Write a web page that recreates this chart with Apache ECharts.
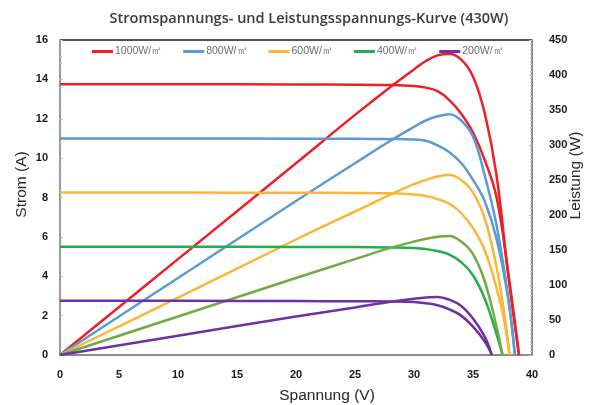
<!DOCTYPE html>
<html>
<head>
<meta charset="utf-8">
<script src="https://cdn.jsdelivr.net/npm/echarts@6/dist/echarts.min.js"></script>
<style>
  html, body { margin: 0; padding: 0; background: #fff; }
  #chart { width: 600px; height: 405px; }
</style>
</head>
<body>
<div id="chart"></div>
<script>
// legend names (irradiance)
const names = ['1000W/㎡', '800W/㎡', '600W/㎡', '400W/㎡', '200W/㎡'];

// 1000 W/m2
const v1000 = [0, 10, 20, 25, 28, 30, 31, 32, 33, 34, 35, 36, 37, 38, 38.9];
const i1000 = [13.75, 13.75, 13.74, 13.73, 13.71, 13.66, 13.58, 13.40, 12.95, 12.25, 11.30, 9.90, 8.00, 4.10, 0];
const p1000 = [0, 137, 274, 343, 383, 408, 420, 428, 430, 422, 398, 345, 256, 112, 0];

// 800 W/m2
const v800 = [0, 10, 20, 25, 28, 30, 31, 32, 33, 34, 35, 36, 37, 38, 38.55];
const i800 = [11.0, 11.0, 10.99, 10.98, 10.97, 10.95, 10.88, 10.65, 10.30, 9.75, 8.90, 7.80, 5.90, 2.80, 0];
const p800 = [0, 110, 220, 274, 306, 326, 335, 341, 344, 335, 312, 256, 185, 80, 0];

// 600 W/m2
const v600 = [0, 10, 20, 25, 28, 30, 31, 32, 33, 34, 35, 36, 37, 37.6, 38.1];
const i600 = [8.25, 8.25, 8.24, 8.23, 8.21, 8.15, 8.08, 7.92, 7.68, 7.20, 6.45, 5.30, 3.40, 1.90, 0];
const p600 = [0, 82, 165, 205, 229, 244, 250, 255, 257, 250, 232, 195, 125, 65, 0];

// 400 W/m2
const v400 = [0, 10, 20, 25, 28, 30, 31, 32, 33, 34, 35, 36, 37, 37.5];
const i400 = [5.5, 5.5, 5.49, 5.48, 5.46, 5.43, 5.38, 5.28, 5.10, 4.72, 4.05, 2.85, 1.05, 0];
const p400 = [0, 55, 110, 137, 153, 162, 166, 169, 170, 162, 144, 105, 40, 0];

// 200 W/m2
const v200 = [0, 10, 20, 25, 28, 30, 31, 32, 33, 34, 35, 36, 36.6];
const i200 = [2.75, 2.75, 2.74, 2.73, 2.72, 2.69, 2.63, 2.53, 2.32, 2.00, 1.44, 0.68, 0];
const p200 = [0, 27.5, 55, 68, 76, 80.5, 82, 83, 79, 70, 52, 26, 0];

const volts = [v1000, v800, v600, v400, v200];
const currents = [i1000, i800, i600, i400, i200];
const powers = [p1000, p800, p600, p400, p200];
const ivColors = ['#ee1f26', '#5b9bd5', '#fbb63a', '#22ad4e', '#7030a0'];
const pvColors = ['#ee1f26', '#5b9bd5', '#fbb63a', '#74a944', '#7030a0'];

const pairs = (xs, ys) => xs.map((x, k) => [x, ys[k]]);

const series = [];
names.forEach((n, k) => {
    series.push({
        name: n,
        type: 'line',
        yAxisIndex: 0,
        smooth: 0.4,
        symbol: 'none',
        lineStyle: { width: 2.5, color: ivColors[k] },
        itemStyle: { color: ivColors[k] },
        data: pairs(volts[k], currents[k])
    });
    series.push({
        name: n,
        type: 'line',
        yAxisIndex: 1,
        smooth: 0.4,
        symbol: 'none',
        lineStyle: { width: 2.5, color: pvColors[k] },
        itemStyle: { color: pvColors[k] },
        data: pairs(volts[k], powers[k])
    });
});

const numFont = { color: '#1a1a1a', fontWeight: 'bold', fontSize: 11, fontFamily: 'Liberation Sans' };
const nameFont = { color: '#262626', fontSize: 15.5, fontFamily: 'Liberation Sans, Arial' };

const chart = echarts.init(document.getElementById('chart'));
chart.setOption({
    animation: false,
    backgroundColor: '#fff',
    title: {
        text: 'Stromspannungs- und Leistungsspannungs-Kurve (430W)',
        left: 304,
        textAlign: 'center',
        top: 6,
        textStyle: { color: '#3a3a3a', fontSize: 14.5, fontWeight: 600, fontFamily: 'Open Sans' }
    },
    legend: {
        data: names,
        top: 46,
        left: 92,
        padding: 0,
        itemWidth: 21,
        itemHeight: 3,
        itemGap: 21,
        icon: 'rect',
        textStyle: { color: '#6b6b6b', fontSize: 10.5, fontFamily: 'Liberation Sans', padding: [0, 0, 0, -3] }
    },
    grid: {
        left: 60, right: 68, top: 40, bottom: 50,
        outerBoundsMode: 'none',
        show: true, borderColor: '#1a1a1a', borderWidth: 1.5
    },
    xAxis: {
        type: 'value',
        min: 0, max: 40, interval: 5,
        name: 'Spannung (V)',
        nameLocation: 'middle',
        nameGap: 33,
        nameMoveOverlap: false,
        nameTextStyle: Object.assign({}, nameFont, { padding: [0, 0, 0, 62] }),
        axisLine: { show: true, lineStyle: { color: '#8a8a8a', width: 2 } },
        axisTick: { show: false },
        axisLabel: Object.assign({ margin: 14 }, numFont),
        splitLine: { show: false }
    },
    yAxis: [
        {
            type: 'value',
            min: 0, max: 16, interval: 2,
            name: 'Strom (A)',
            nameLocation: 'middle',
            nameGap: 30,
            nameMoveOverlap: false,
            nameRotate: 90,
            nameTextStyle: Object.assign({}, nameFont, { padding: [0, 0, 0, 26] }),
            axisLine: { show: true, lineStyle: { color: '#9a9a9a', width: 2 } },
            axisTick: { show: true, inside: true, length: 3, lineStyle: { color: '#bbb' } },
            minorTick: { show: true, splitNumber: 5, length: 2, lineStyle: { color: '#c8c8c8' } },
            axisLabel: Object.assign({ margin: 12 }, numFont),
            splitLine: { show: false }
        },
        {
            type: 'value',
            position: 'right',
            min: 0, max: 450, interval: 50,
            name: 'Leistung (W)',
            nameLocation: 'middle',
            nameGap: 36,
            nameMoveOverlap: false,
            nameRotate: 90,
            nameTextStyle: Object.assign({}, nameFont, { padding: [0, 0, 0, 44] }),
            axisLine: { show: true, lineStyle: { color: '#8a8a8a', width: 2 } },
            axisTick: { show: true, inside: true, length: 3, lineStyle: { color: '#bbb' } },
            minorTick: { show: true, splitNumber: 10, length: 2, lineStyle: { color: '#c8c8c8' } },
            axisLabel: Object.assign({ margin: 17 }, numFont),
            splitLine: { show: false }
        }
    ],
    series: series
});
window.addEventListener('resize', () => chart.resize());
</script>
</body>
</html>
